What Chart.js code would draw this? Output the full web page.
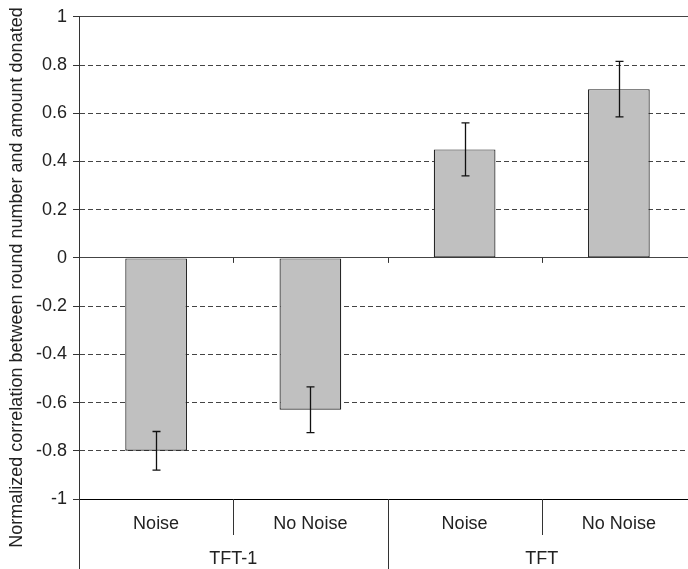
<!DOCTYPE html>
<html>
<head>
<meta charset="utf-8">
<script src="https://cdn.jsdelivr.net/npm/chart.js@4.4.0/dist/chart.umd.min.js"></script>
<style>
  html, body { margin: 0; padding: 0; background: #fff; overflow: hidden; }
  #wrap { width: 696px; height: 569px; }
</style>
</head>
<body>
<div id="wrap"><canvas id="grafico" width="696" height="569"></canvas></div>
<script>
// dados do gráfico
const categorias = ["Noise", "No Noise", "Noise", "No Noise"];
const grupos = ["TFT-1", "TFT"];
const grupoTamanho = [2, 2];
const valores = [-0.80, -0.63, 0.45, 0.70];
const erros = [0.08, 0.095, 0.11, 0.115];
const yTicks = [-1, -0.8, -0.6, -0.4, -0.2, 0, 0.2, 0.4, 0.6, 0.8, 1];
const yTickLabels = ["-1", "-0.8", "-0.6", "-0.4", "-0.2", "0", "0.2", "0.4", "0.6", "0.8", "1"];
const tituloY = "Normalized correlation between round number and amount donated";

const FONTE = "Liberation Sans, Arial, sans-serif";

// plugin: barras de erro, rótulos agrupados e título do eixo
const extras = {
  id: "extras",
  afterDatasetsDraw(chart) {
    const { ctx, scales: { y } } = chart;
    const meta = chart.getDatasetMeta(0);

    ctx.save();
    ctx.strokeStyle = "#111";
    ctx.lineWidth = 1.3;
    meta.data.forEach((bar, i) => {
      const xc = Math.round(bar.x) + 0.5;
      const y1 = y.getPixelForValue(valores[i] + erros[i]);
      const y2 = y.getPixelForValue(valores[i] - erros[i]);
      ctx.beginPath();
      ctx.moveTo(xc, y1); ctx.lineTo(xc, y2);
      ctx.moveTo(xc - 4, y1); ctx.lineTo(xc + 4, y1);
      ctx.moveTo(xc - 4, y2); ctx.lineTo(xc + 4, y2);
      ctx.stroke();
    });
    ctx.restore();
  },
  afterDraw(chart) {
    const { ctx, chartArea, scales: { x, y } } = chart;
    const H = chart.height;
    const base = chartArea.bottom;
    const zero = y.getPixelForValue(0);
    const limite = (i) => (x.getPixelForValue(i) + x.getPixelForValue(i + 1)) / 2;

    ctx.save();
    ctx.strokeStyle = "#333";
    ctx.lineWidth = 1;

    // eixo y continua até embaixo
    ctx.beginPath();
    ctx.moveTo(Math.round(chartArea.left) + 0.5, base);
    ctx.lineTo(Math.round(chartArea.left) + 0.5, H);
    ctx.stroke();

    // marcas na linha do zero e separadores
    let idx = 0;
    grupoTamanho.forEach((n) => {
      for (let k = 0; k < n; k++) {
        const i = idx + k;
        if (i >= categorias.length - 1) continue;
        const xb = Math.round(limite(i)) + 0.5;
        ctx.beginPath();
        ctx.moveTo(xb, zero); ctx.lineTo(xb, zero + 5);
        const fimGrupo = k === n - 1;
        ctx.moveTo(xb, base); ctx.lineTo(xb, fimGrupo ? H : base + 36);
        ctx.stroke();
      }
      idx += n;
    });

    // rótulos das categorias
    ctx.fillStyle = "#222";
    ctx.font = "18px " + FONTE;
    ctx.textAlign = "center";
    ctx.textBaseline = "middle";
    categorias.forEach((c, i) => {
      ctx.fillText(c, x.getPixelForValue(i), base + 25);
    });

    idx = 0;
    grupos.forEach((g, j) => {
      const n = grupoTamanho[j];
      const xm = (x.getPixelForValue(idx) + x.getPixelForValue(idx + n - 1)) / 2;
      ctx.fillText(g, xm, base + 60);
      idx += n;
    });

    // título do eixo y
    ctx.translate(17, H / 2 - 7);
    ctx.rotate(-Math.PI / 2);
    ctx.font = "18px " + FONTE;
    ctx.fillText(tituloY, 0, 0);
    ctx.restore();
  }
};

const ehSolida = (v) => v === 0 || v === 1 || v === -1;

new Chart(document.getElementById("grafico"), {
  type: "bar",
  data: {
    labels: categorias,
    datasets: [{
      data: valores,
      backgroundColor: "#c0c0c0",
      borderColor: "#222",
      borderWidth: 1.2,
      borderSkipped: false,
      barPercentage: 0.4,
      categoryPercentage: 1
    }]
  },
  options: {
    responsive: false,
    animation: false,
    layout: { padding: { top: 8, bottom: 70, left: 0, right: 0 } },
    plugins: { legend: { display: false }, tooltip: { enabled: false } },
    scales: {
      x: { display: false },
      y: {
        min: -1,
        max: 1,
        afterBuildTicks: (s) => { s.ticks = yTicks.map(v => ({ value: v })); },
        afterFit: (s) => { s.width = 79; },
        ticks: {
          padding: 6,
          color: "#222",
          font: { family: FONTE, size: 18 },
          callback: (v) => yTickLabels[yTicks.indexOf(v)]
        },
        grid: {
          color: (c) => c.tick && c.tick.value === -1 ? "#000" : "#444",
          lineWidth: 1,
          tickLength: 6,
          tickColor: "#333",
          tickBorderDash: []
        },
        border: {
          display: true,
          color: "#333",
          width: 1,
          dash: (c) => (c.tick && !ehSolida(c.tick.value)) ? [5, 3] : []
        }
      }
    }
  },
  plugins: [extras]
});
</script>
</body>
</html>
